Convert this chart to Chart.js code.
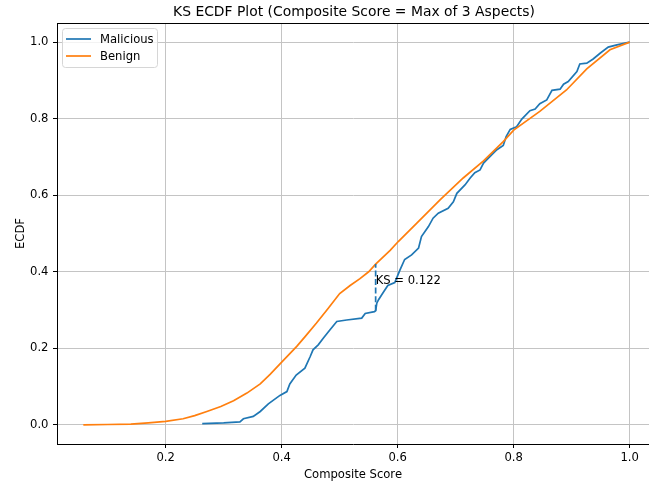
<!DOCTYPE html>
<html>
<head>
<meta charset="utf-8">
<script src="https://cdn.jsdelivr.net/npm/chart.js@4/dist/chart.umd.min.js"></script>
<style>
  html, body { margin: 0; padding: 0; background: #fff; overflow: hidden; }
  canvas { display: block; }
</style>
</head>
<body>
<canvas id="ecdf" width="649" height="483"></canvas>
<script>
// Labels
const chartTitle = 'KS ECDF Plot (Composite Score = Max of 3 Aspects)';
const xAxisTitle = 'Composite Score';
const yAxisTitle = 'ECDF';
const seriesNames = ['Malicious', 'Benign'];

// Malicious ECDF
const maliciousScore = [0.263, 0.300, 0.328, 0.334, 0.351, 0.363, 0.377, 0.397, 0.409, 0.414, 0.425, 0.440,
  0.449, 0.454, 0.463, 0.472, 0.483, 0.495, 0.512, 0.538, 0.544, 0.560, 0.562, 0.564, 0.567, 0.575, 0.583,
  0.595, 0.604, 0.612, 0.624, 0.636, 0.641, 0.653, 0.661, 0.670, 0.687, 0.696, 0.702, 0.716, 0.725, 0.733,
  0.742, 0.748, 0.759, 0.771, 0.782, 0.787, 0.794, 0.805, 0.814, 0.828, 0.837, 0.845, 0.857, 0.866, 0.880,
  0.886, 0.894, 0.909, 0.914, 0.926, 0.937, 0.949, 0.963, 0.978, 1.000];
const maliciousEcdf = [0.003, 0.005, 0.008, 0.016, 0.022, 0.035, 0.055, 0.077, 0.087, 0.107, 0.130, 0.148,
  0.178, 0.196, 0.209, 0.227, 0.248, 0.270, 0.274, 0.279, 0.291, 0.296, 0.298, 0.318, 0.327, 0.346, 0.364,
  0.372, 0.405, 0.432, 0.444, 0.462, 0.492, 0.518, 0.540, 0.553, 0.566, 0.583, 0.605, 0.627, 0.645, 0.659,
  0.666, 0.684, 0.701, 0.719, 0.730, 0.753, 0.772, 0.779, 0.799, 0.821, 0.825, 0.839, 0.849, 0.874, 0.877,
  0.890, 0.897, 0.923, 0.943, 0.945, 0.956, 0.971, 0.987, 0.993, 1.000];

// Benign ECDF
const benignScore = [0.058, 0.100, 0.140, 0.170, 0.200, 0.230, 0.250, 0.271, 0.295, 0.317, 0.340, 0.363,
  0.380, 0.400, 0.426, 0.440, 0.460, 0.480, 0.500, 0.518, 0.535, 0.550, 0.562, 0.587, 0.601, 0.633, 0.673,
  0.713, 0.748, 0.782, 0.800, 0.845, 0.891, 0.926, 0.966, 1.000];
const benignEcdf = [0.000, 0.001, 0.002, 0.005, 0.009, 0.016, 0.024, 0.035, 0.048, 0.063, 0.083, 0.107,
  0.132, 0.164, 0.205, 0.230, 0.266, 0.304, 0.343, 0.364, 0.382, 0.400, 0.420, 0.456, 0.479, 0.527, 0.588,
  0.645, 0.690, 0.740, 0.770, 0.819, 0.875, 0.930, 0.980, 1.000];

// KS statistic: largest vertical gap between the two ECDFs
const ksScore = 0.562;
const ksStat = 0.122;
const ksMaliciousEcdf = 0.298;

// Ticks
const xTickValues = [0.2, 0.4, 0.6, 0.8, 1.0];
const xTickLabels = ['0.2', '0.4', '0.6', '0.8', '1.0'];
const yTickValues = [0.0, 0.2, 0.4, 0.6, 0.8, 1.0];
const yTickLabels = ['0.0', '0.2', '0.4', '0.6', '0.8', '1.0'];

const colors = ['#1f77b4', '#ff7f0e'];
const FONT = '"DejaVu Sans", sans-serif';
const TEXT = '#000';
const SIZE = 11.6;

const toPoints = (xs, ys) => xs.map((x, i) => ({ x: x, y: ys[i] }));

// Title, axis titles, top spine, KS label and legend
const decorations = {
  id: 'decorations',
  afterDraw(chart) {
    const { ctx, chartArea: a, scales } = chart;
    ctx.save();
    // top spine
    ctx.strokeStyle = '#000';
    ctx.lineWidth = 1;
    ctx.beginPath();
    ctx.moveTo(a.left, Math.round(a.top) + 0.5);
    ctx.lineTo(a.right, Math.round(a.top) + 0.5);
    ctx.stroke();

    const cx = (a.left + a.right) / 2;
    ctx.fillStyle = TEXT;
    ctx.textAlign = 'center';
    ctx.textBaseline = 'alphabetic';
    ctx.font = '13.9px ' + FONT;
    ctx.fillText(chartTitle, cx + 1, 16);

    ctx.font = SIZE + 'px ' + FONT;
    ctx.fillText(xAxisTitle, cx, 478);

    ctx.save();
    ctx.translate(24, (a.top + a.bottom) / 2);
    ctx.rotate(-Math.PI / 2);
    ctx.fillText(yAxisTitle, 0, 0);
    ctx.restore();

    // KS annotation
    const kx = scales.x.getPixelForValue(ksScore);
    const ky = scales.y.getPixelForValue(0.367);
    ctx.textAlign = 'left';
    ctx.fillText('KS = ' + ksStat.toFixed(3), kx, ky);

    // legend
    const lx = 62.5, ly = 28.5, lw = 95, lh = 39, r = 3;
    ctx.fillStyle = 'rgba(255,255,255,0.8)';
    ctx.strokeStyle = '#d6d6d6';
    ctx.lineWidth = 1;
    ctx.beginPath();
    ctx.roundRect(lx, ly, lw, lh, r);
    ctx.fill();
    ctx.stroke();
    seriesNames.forEach((name, i) => {
      const y = 39 + i * 17;
      ctx.strokeStyle = colors[i];
      ctx.lineWidth = 1.7;
      ctx.beginPath();
      ctx.moveTo(66, y);
      ctx.lineTo(91, y);
      ctx.stroke();
      ctx.fillStyle = TEXT;
      ctx.fillText(name, 100, y + 4.3);
    });
    ctx.restore();
  }
};

const lineStyle = (color) => ({
  borderColor: color,
  backgroundColor: color,
  borderWidth: 1.7,
  pointRadius: 0,
  tension: 0,
  fill: false
});

new Chart(document.getElementById('ecdf'), {
  type: 'line',
  data: {
    datasets: [
      Object.assign({ label: seriesNames[0], data: toPoints(maliciousScore, maliciousEcdf), order: 2 }, lineStyle(colors[0])),
      Object.assign({ label: seriesNames[1], data: toPoints(benignScore, benignEcdf), order: 1 }, lineStyle(colors[1])),
      Object.assign({
        label: 'KS',
        data: [{ x: ksScore, y: ksMaliciousEcdf }, { x: ksScore, y: ksMaliciousEcdf + ksStat }],
        borderDash: [6, 2.6],
        order: 0
      }, lineStyle(colors[0]))
    ]
  },
  options: {
    responsive: false,
    animation: false,
    devicePixelRatio: 1,
    layout: { padding: { top: 23, left: 0, right: 0, bottom: 0 } },
    plugins: { legend: { display: false }, title: { display: false }, tooltip: { enabled: false } },
    scales: {
      x: {
        type: 'linear',
        min: 0.0126,
        max: 1.0333,
        afterFit: (s) => { s.height = 39; },
        afterBuildTicks: (s) => { s.ticks = xTickValues.map(v => ({ value: v })); },
        ticks: {
          callback: (v, i) => xTickLabels[i],
          font: { family: FONT, size: SIZE },
          color: TEXT,
          padding: 3,
          maxRotation: 0,
          autoSkip: false
        },
        grid: { color: '#c4c4c4', lineWidth: 1, drawTicks: true, tickLength: 4, tickColor: '#000', tickWidth: 1 },
        border: { display: true, color: '#000', width: 1 }
      },
      y: {
        type: 'linear',
        min: -0.05,
        max: 1.05,
        afterFit: (s) => { s.width = 57; },
        afterBuildTicks: (s) => { s.ticks = yTickValues.map(v => ({ value: v })); },
        ticks: {
          callback: (v, i) => yTickLabels[i],
          font: { family: FONT, size: SIZE },
          color: TEXT,
          padding: 4.5,
          autoSkip: false
        },
        grid: { color: '#c4c4c4', lineWidth: 1, drawTicks: true, tickLength: 4, tickColor: '#000', tickWidth: 1 },
        border: { display: true, color: '#000', width: 1 }
      }
    }
  },
  plugins: [decorations]
});
</script>
</body>
</html>
